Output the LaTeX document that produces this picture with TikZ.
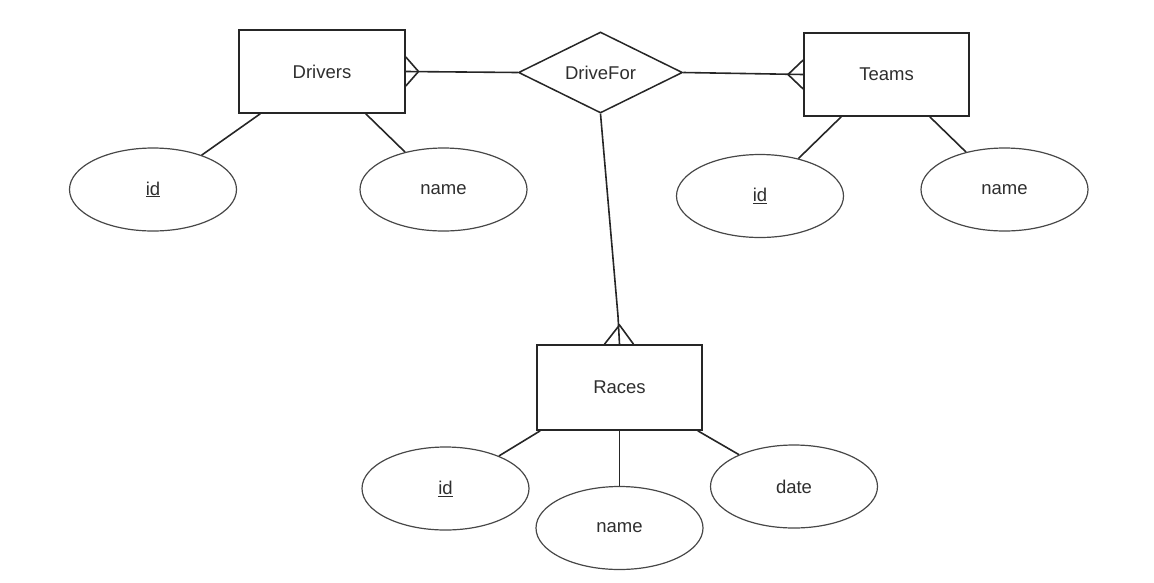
\documentclass[tikz,border=0pt]{standalone}
\usepackage{fontspec}
\setmainfont{Liberation Sans}
\usetikzlibrary{shapes.geometric}
\definecolor{ln}{HTML}{262626}
\definecolor{tx}{HTML}{2E2E2E}
\tikzset{
  entity/.style={draw=ln, line width=1.6pt, rectangle, inner sep=0pt, text=tx, font=\fontsize{18.5}{22}\selectfont},
  attr/.style={draw=ln!85, line width=1.2pt, ellipse, inner sep=0pt, minimum width=167pt, minimum height=83pt, text=tx, font=\fontsize{18.5}{22}\selectfont},
  rel/.style={draw=ln, line width=1.5pt, diamond, aspect=2, inner sep=0pt, minimum width=164pt, minimum height=81pt, text=tx, font=\fontsize{18.5}{22}\selectfont},
  conn/.style={draw=ln, line width=1.6pt},
}
\begin{document}
\begin{tikzpicture}[x=1pt,y=-1pt]
\useasboundingbox (0,0) rectangle (1154,582);
% entities
\node[entity, minimum width=166pt, minimum height=83pt] (drivers) at (322,71.5) {Drivers};
\node[entity, minimum width=165pt, minimum height=83pt] (teams) at (886.5,74.5) {Teams};
\node[entity, minimum width=165pt, minimum height=85pt] (races) at (619.5,387.5) {Races};
% relationship
\node[rel] (drivefor) at (600.5,72.5) {DriveFor};
% attributes
\node[attr] (did) at (153,189.5) {\underline{id}};
\node[attr] (dname) at (443.5,189.5) {name};
\node[attr] (tid) at (760,196) {\underline{id}};
\node[attr] (tname) at (1004.5,189.5) {name};
\node[attr] (rid) at (445.5,488.5) {\underline{id}};
\node[attr] (rname) at (619.5,528) {name};
\node[attr] (rdate) at (794,486.5) {date};
% relationship lines with crow's feet
\coordinate (dtip) at (418.5,71.5);
\draw[conn] (drivers.east) -- (drivefor.west);
\draw[conn] ([yshift=-14.5pt]drivers.east) -- (dtip) -- ([yshift=14.5pt]drivers.east);
\coordinate (ttip) at (788,74.5);
\draw[conn] (drivefor.east) -- (teams.west);
\draw[conn] ([yshift=-14.5pt]teams.west) -- (ttip) -- ([yshift=14.5pt]teams.west);
\coordinate (rtip) at (619.5,325);
\coordinate (rbend) at (618,316);
\draw[conn] (drivefor.south) -- (rbend) -- (races.north);
\draw[conn] ([xshift=-15pt]races.north) -- (rtip) -- ([xshift=14pt]races.north);
% attribute lines
\draw[conn] ([xshift=22pt]drivers.south west) -- (did);
\draw[conn] ([xshift=-40pt]drivers.south east) -- (dname);
\draw[conn] ([xshift=38pt]teams.south west) -- (tid);
\draw[conn] ([xshift=-40pt]teams.south east) -- (tname);
\draw[conn] ([xshift=4pt]races.south west) -- (rid);
\draw[conn] (races.south) -- (rname);
\draw[conn] ([xshift=-5pt]races.south east) -- (rdate);
\end{tikzpicture}
\end{document}
